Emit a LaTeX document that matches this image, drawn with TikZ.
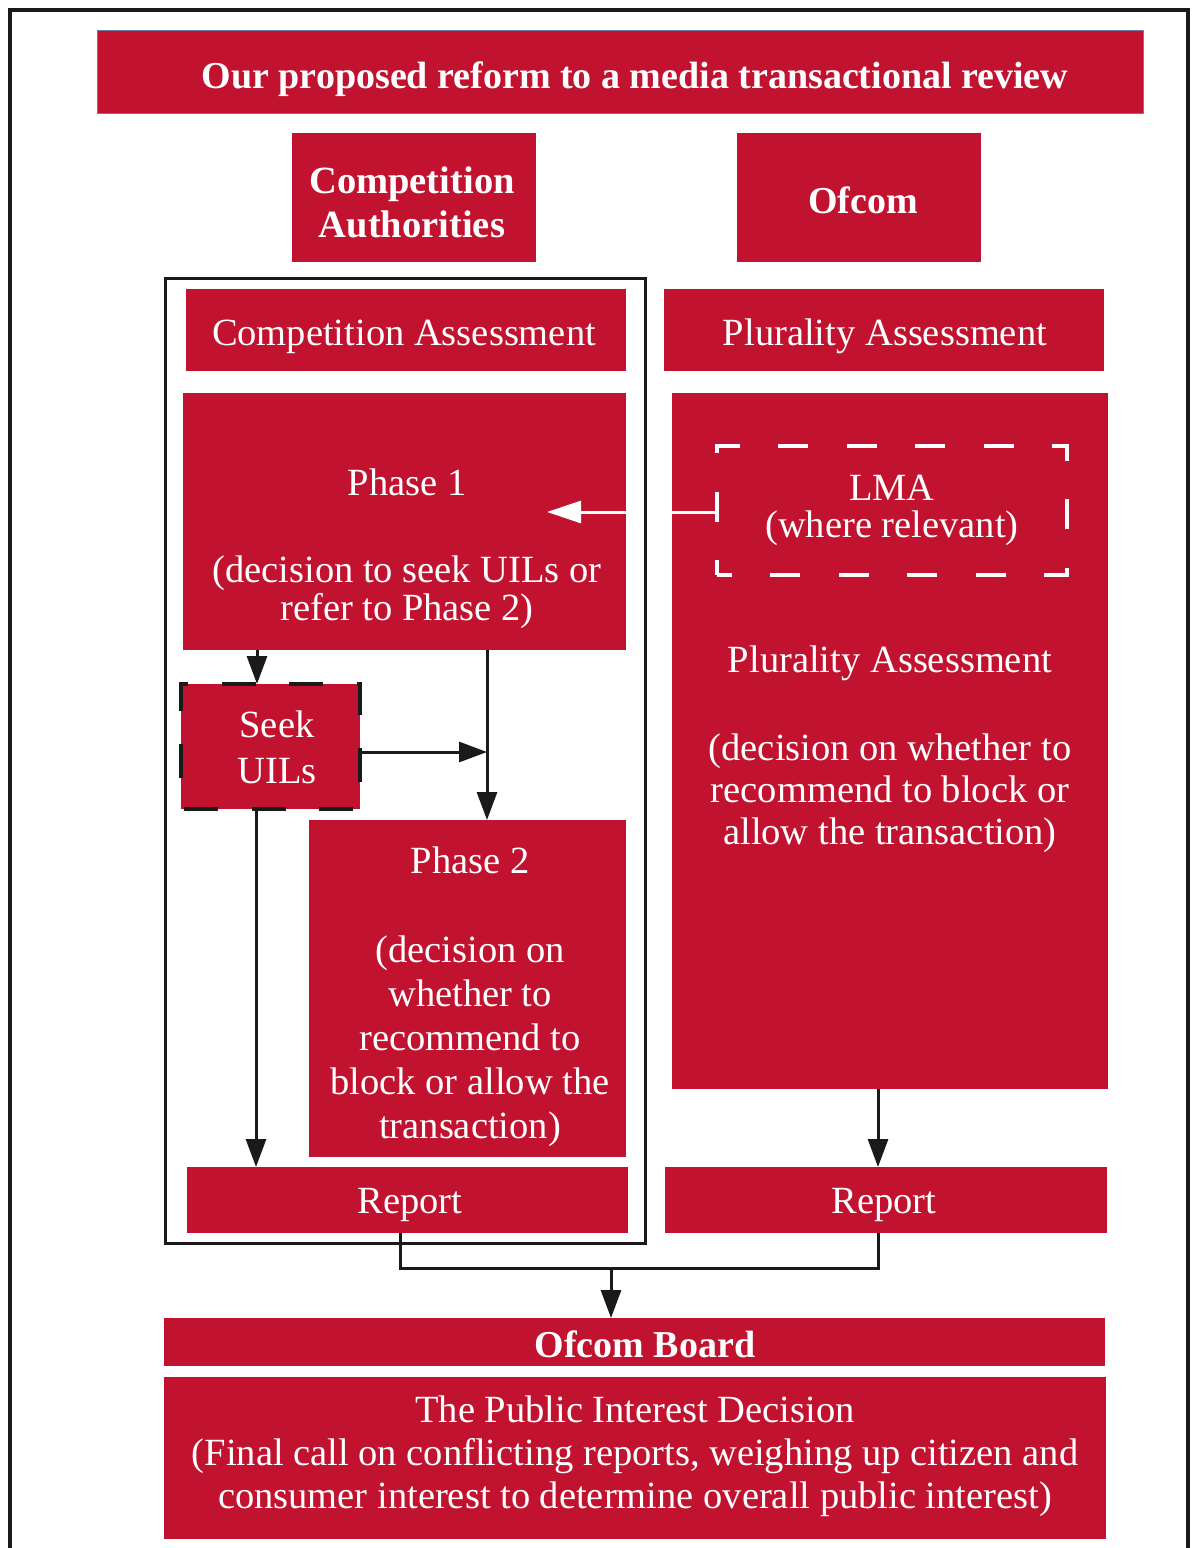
\documentclass[tikz,border=0pt]{standalone}
\usepackage{fontspec}
\setmainfont{Liberation Serif}
\usetikzlibrary{arrows.meta}
\definecolor{ofred}{RGB}{193,18,47}
\definecolor{tborder}{RGB}{110,122,170}
\definecolor{ink}{RGB}{26,26,26}
\begin{document}
\begin{tikzpicture}[x=1pt,y=-1pt,
  redbox/.style={fill=ofred, draw=none, inner sep=0pt, outer sep=0pt},
  wt/.style={text=white, inner sep=0pt, align=center},
  conn/.style={draw=ink, line width=3pt},
  arr/.style={conn, -{Triangle[length=28pt,width=20pt]}},
  warr/.style={draw=white, line width=3pt, -{Triangle[length=34pt,width=22pt]}},
]
\useasboundingbox (0,0) rectangle (1192,1548);
\fill[white] (0,0) rectangle (1192,1548);
\draw[ink, line width=4pt] (10,1560) -- (10,10) -- (1188,10) -- (1188,1560);

% boxes
\node[redbox, draw=tborder, line width=1pt, minimum width=1046pt, minimum height=83pt] (title) at (620,71.5) {};
\node[redbox, minimum width=244pt, minimum height=129pt] (compauth) at (414,197.5) {};
\node[redbox, minimum width=244pt, minimum height=129pt] (ofcom) at (859,197.5) {};
\node[redbox, minimum width=440pt, minimum height=82pt] (compassess) at (406,330) {};
\node[redbox, minimum width=440pt, minimum height=82pt] (plurhead) at (884,330) {};
\node[redbox, minimum width=443pt, minimum height=257pt] (phase1) at (404.5,521.5) {};
\node[redbox, minimum width=436pt, minimum height=696pt] (big) at (890,741) {};
\node[draw=white, line width=4pt, dash pattern=on 30pt off 38.43pt, dash phase=15pt, inner sep=0pt, minimum width=350pt, minimum height=129pt] (lma) at (892,510.5) {};
\node[redbox, draw=ink, line width=3.5pt, dash pattern=on 34pt off 33.56pt, dash phase=64.56pt, minimum width=179pt, minimum height=125pt] (seek) at (270.5,746.5) {};
\node[redbox, minimum width=317pt, minimum height=337pt] (phase2) at (467.5,988.5) {};
\node[redbox, minimum width=441pt, minimum height=66pt] (reportL) at (407.5,1200) {};
\node[redbox, minimum width=442pt, minimum height=66pt] (reportR) at (886,1200) {};
\node[redbox, minimum width=941pt, minimum height=48pt] (board) at (634.5,1342) {};
\node[redbox, minimum width=942pt, minimum height=162pt] (pid) at (635,1458) {};

% texts
\node[wt, anchor=base, font=\bfseries\fontsize{38}{44}\selectfont] (ttitle) at (635,88) {Our proposed reform to a media transactional review};
\node[wt, anchor=north, font=\bfseries\fontsize{38.5}{44}\selectfont] (tcompauth) at (412,167) {Competition\\Authorities};
\node[wt, anchor=base, font=\bfseries\fontsize{38}{44}\selectfont] (tofcom) at (863,213) {Ofcom};
\node[wt, anchor=base, font=\fontsize{38.5}{44}\selectfont] (tcompassess) at (404,345) {Competition Assessment};
\node[wt, anchor=base, font=\fontsize{38.5}{44}\selectfont] (tplurhead) at (885,345) {Plurality Assessment};
\node[wt, anchor=north, font=\fontsize{38.5}{38}\selectfont] (tphase1) at (407,469) {Phase 1\\[49pt](decision to seek UILs or\\refer to Phase 2)};
\node[wt, anchor=north, font=\fontsize{38.5}{37}\selectfont] (tlma) at (892,474.5) {LMA\\(where relevant)};
\node[wt, anchor=north, font=\fontsize{38.5}{42}\selectfont] (tbig) at (890,646) {Plurality Assessment\\[46pt](decision on whether to\\recommend to block or\\allow the transaction)};
\node[wt, anchor=north, font=\fontsize{38.5}{46}\selectfont] (tseek) at (277,711) {Seek\\UILs};
\node[wt, anchor=north, font=\fontsize{38.5}{44}\selectfont] (tphase2) at (470,847) {Phase 2\\[45pt](decision on\\whether to\\recommend to\\block or allow the\\transaction)};
\node[wt, anchor=base, font=\fontsize{38.5}{44}\selectfont] (treportL) at (410,1213) {Report};
\node[wt, anchor=base, font=\fontsize{38.5}{44}\selectfont] (treportR) at (884,1213) {Report};
\node[wt, anchor=base, font=\bfseries\fontsize{38}{44}\selectfont] (tboard) at (645,1357) {Ofcom Board};
\node[wt, anchor=north, font=\fontsize{38.5}{43}\selectfont] (tpid) at (635,1396) {The Public Interest Decision\\(Final call on conflicting reports, weighing up citizen and\\consumer interest to determine overall public interest)};

% connector guide coordinates
\coordinate (ax) at (257,0);
\coordinate (vx) at (487,0);
\coordinate (hy) at (0,752);
\coordinate (bx) at (256,0);
\coordinate (cx) at (878,0);
\coordinate (lx) at (400,0);
\coordinate (jn) at (611,1268);
\coordinate (wtip) at (547,512);

% connectors
\draw[warr] (lma.west |- wtip) -- (wtip);
\draw[arr] (phase1.south -| ax) -- (seek.north -| ax);
\draw[arr] (phase1.south -| vx) -- (phase2.north -| vx);
\draw[arr] (seek.east |- hy) -- (vx |- hy);
\draw[arr] (seek.south -| bx) -- (reportL.north -| bx);
\draw[arr] (big.south -| cx) -- (reportR.north -| cx);
\draw[conn] (reportL.south -| lx) -- (lx |- jn) -- (cx |- jn) -- (reportR.south -| cx);
\draw[arr] (jn) -- (board.north -| jn);

% frame round the competition column (drawn last so it stays unbroken)
\draw[ink, line width=3pt] (165.5,278) rectangle (645.5,1243);
\end{tikzpicture}
\end{document}
